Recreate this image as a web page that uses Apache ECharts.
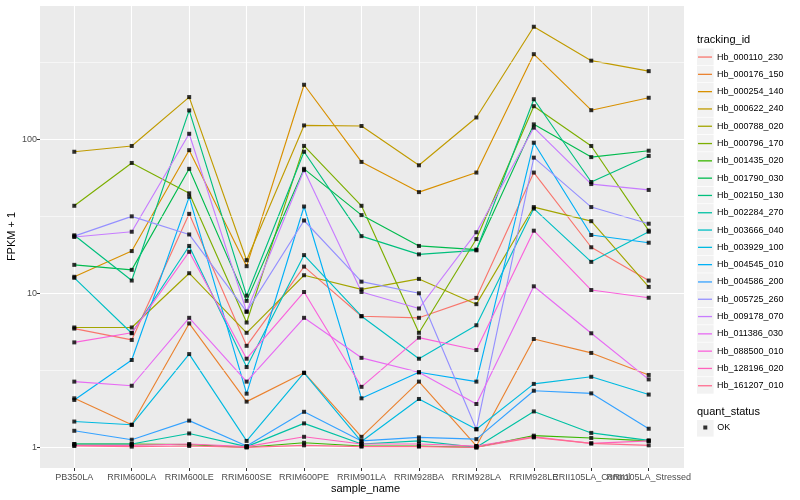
<!DOCTYPE html>
<html><head><meta charset="utf-8">
<script src="https://cdn.jsdelivr.net/npm/echarts@6/dist/echarts.min.js"></script>
<style>html,body{margin:0;padding:0;background:#fff}#c{width:800px;height:500px}</style>
</head><body><div id="c"></div>
<script>
const categories = ["PB350LA","RRIM600LA","RRIM600LE","RRIM600SE","RRIM600PE","RRIM901LA","RRIM928BA","RRIM928LA","RRIM928LE","RRII105LA_Control","RRII105LA_Stressed"];
const trackingIds = ["Hb_000110_230","Hb_000176_150","Hb_000254_140","Hb_000622_240","Hb_000788_020","Hb_000796_170","Hb_001435_020","Hb_001790_030","Hb_002150_130","Hb_002284_270","Hb_003666_040","Hb_003929_100","Hb_004545_010","Hb_004586_200","Hb_005725_260","Hb_009178_070","Hb_011386_030","Hb_088500_010","Hb_128196_020","Hb_161207_010"];
const colors = ["#F8766D","#EA8331","#D89000","#C09B00","#A3A500","#7CAE00","#39B600","#00BB4E","#00BF7D","#00C1A3","#00BFC4","#00BAE0","#00B0F6","#35A2FF","#9590FF","#C77CFF","#E76BF3","#FA62DB","#FF62BC","#FF6C90"];

// FPKM + 1 values, one array per tracking_id, in category order
const v000110_230 = [5.9, 4.98, 32.8, 4.56, 14.9, 7.1, 6.93, 9.34, 60.8, 19.9, 12.1];
const v000176_150 = [2.08, 1.40, 6.37, 1.98, 3.05, 1.17, 2.67, 1.02, 5.05, 4.1, 2.95];
const v000254_140 = [12.8, 18.8, 85, 15.0, 226, 71.3, 45.4, 60.8, 357, 154.5, 186];
const v000622_240 = [83, 90.5, 188, 16.4, 123, 122, 67.8, 138.6, 538, 324, 277];
const v000788_020 = [6.0, 6.0, 13.5, 5.54, 13.1, 10.6, 12.4, 8.5, 36.3, 29.4, 11.0];
const v000796_170 = [37, 70.2, 44.6, 6.46, 90.6, 37, 5.54, 22.5, 164, 90.5, 25.5];
const v001435_020 = [1.05, 1.05, 1.04, 1.0, 1.07, 1.02, 1.02, 1.0, 1.19, 1.15, 1.1];
const v001790_030 = [15.3, 14.2, 64.3, 8.93, 64.3, 32.2, 20.3, 19.2, 125, 76.6, 84.3];
const v002150_130 = [23.8, 12.1, 154, 9.65, 83, 23.5, 17.9, 19.0, 182, 52.8, 78];
const v002284_270 = [1.05, 1.05, 1.23, 1.01, 1.43, 1.05, 1.10, 1.0, 1.71, 1.24, 1.11];
const v003666_040 = [12.6, 5.5, 20.3, 3.32, 17.7, 7.1, 3.76, 6.2, 35.5, 16.0, 25.1];
const v003929_100 = [1.47, 1.40, 4.03, 1.10, 3.04, 1.09, 2.06, 1.31, 2.58, 2.87, 2.2];
const v004545_010 = [2.03, 3.69, 42.3, 2.23, 36.6, 2.08, 3.07, 2.67, 95, 23.9, 21.3];
const v004586_200 = [1.28, 1.12, 1.49, 1.02, 1.70, 1.10, 1.16, 1.13, 2.33, 2.24, 1.32];
const v005725_260 = [23.5, 31.6, 24.1, 7.6, 29.7, 11.9, 10.0, 1.31, 76, 36.3, 28.3];
const v009178_070 = [23.2, 25.1, 108.6, 7.6, 63.1, 10.2, 7.97, 24.9, 119, 51.2, 46.9];
const v011386_030 = [2.67, 2.51, 6.93, 2.67, 6.93, 3.81, 3.07, 1.91, 11.1, 5.5, 2.76];
const v088500_010 = [4.8, 5.54, 18.6, 3.76, 10.2, 2.47, 5.15, 4.28, 25.5, 10.5, 9.36];
const v128196_020 = [1.03, 1.03, 1.05, 1.01, 1.17, 1.05, 1.05, 1.02, 1.17, 1.06, 1.1];
const v161207_010 = [1.02, 1.01, 1.02, 1.0, 1.03, 1.01, 1.01, 1.0, 1.16, 1.06, 1.03];

const seriesValues = [v000110_230, v000176_150, v000254_140, v000622_240, v000788_020, v000796_170, v001435_020, v001790_030, v002150_130, v002284_270, v003666_040, v003929_100, v004545_010, v004586_200, v005725_260, v009178_070, v011386_030, v088500_010, v128196_020, v161207_010];

const yTicks = [1, 10, 100];
const minorBreaks = [3.1623, 31.623, 316.23];
const quantStatus = ["OK"];

const FONT = "'Liberation Sans', Arial, Helvetica, sans-serif";
const Y_MIN = Math.pow(10, -0.1344);
const Y_MAX = Math.pow(10, 2.872);
const PANEL = {left: 40, top: 5, width: 644, height: 463};

const chart = echarts.init(document.getElementById('c'), null, {renderer: 'canvas'});

const lineSeries = trackingIds.map((id, i) => ({
  name: id, type: 'line', xAxisIndex: 1, yAxisIndex: 1,
  data: seriesValues[i], showSymbol: false, symbol: 'none',
  color: colors[i], lineStyle: {width: 1.15, color: colors[i]},
  silent: true, animation: false, z: 3
}));

const pointData = [];
seriesValues.forEach(arr => arr.forEach((v, j) => pointData.push([categories[j], v])));

const keyRects = trackingIds.map((id, i) => ({
  type: 'rect', silent: true, z: -1,
  shape: {x: 697, y: 48.4 + i * 17.3, width: 16.6, height: 16.6},
  style: {fill: '#F2F2F2'}
}));

const option = {
  animation: false,
  backgroundColor: '#FFFFFF',
  grid: [
    {left: PANEL.left, top: PANEL.top, width: PANEL.width, height: PANEL.height, show: true, backgroundColor: '#EBEBEB', borderWidth: 0, containLabel: false},
    {left: 74.3, top: PANEL.top, width: 574.4, height: PANEL.height, show: false, containLabel: false}
  ],
  xAxis: [
    {gridIndex: 0, type: 'value', min: 0, max: 1, show: false},
    {gridIndex: 1, type: 'category', data: categories, boundaryGap: false,
     axisLine: {show: false},
     axisTick: {show: true, length: 3, interval: 0, lineStyle: {color: '#333333', width: 1}},
     axisLabel: {interval: 0, color: '#4D4D4D', fontSize: 9, fontFamily: FONT, margin: 5},
     splitLine: {show: true, interval: 0, lineStyle: {color: '#FFFFFF', width: 1.1}}}
  ],
  yAxis: [
    {gridIndex: 0, type: 'log', logBase: 10, min: Y_MIN, max: Y_MAX,
     axisLine: {show: false},
     axisTick: {show: true, length: 3, lineStyle: {color: '#333333', width: 1}},
     axisLabel: {color: '#4D4D4D', fontSize: 9, fontFamily: FONT, margin: 3, showMinLabel: false, showMaxLabel: false,
       formatter: v => (yTicks.indexOf(Math.round(v)) >= 0 && Math.abs(v - Math.round(v)) < 1e-6) ? String(Math.round(v)) : ''},
     splitLine: {show: true, lineStyle: {color: '#FFFFFF', width: 1.1}}},
    {gridIndex: 1, type: 'log', logBase: 10, min: Y_MIN, max: Y_MAX, show: false, splitLine: {show: false}}
  ],
  legend: [
    {data: trackingIds, orient: 'vertical', left: 698, top: 48.4, padding: 0, icon: 'rect',
     itemWidth: 14, itemHeight: 1.3, itemGap: 0, selectedMode: false,
     textStyle: {fontSize: 9, color: '#000000', fontFamily: FONT, lineHeight: 17.3}},
    {data: quantStatus, orient: 'vertical', left: 703.3, top: 423, padding: 0, icon: 'rect',
     itemWidth: 4, itemHeight: 4, selectedMode: false,
     textStyle: {fontSize: 9, color: '#000000', fontFamily: FONT, padding: [0, 0, 0, 5]}}
  ],
  graphic: [
    ...keyRects,
    {type: 'rect', silent: true, z: -1, shape: {x: 697, y: 420, width: 16.6, height: 16.6}, style: {fill: '#F2F2F2'}},
    {type: 'text', left: 697, top: 34, silent: true, style: {text: 'tracking_id', fontSize: 11, fill: '#000', fontFamily: FONT}},
    {type: 'text', left: 697, top: 406, silent: true, style: {text: 'quant_status', fontSize: 11, fill: '#000', fontFamily: FONT}},
    {type: 'text', left: 331, top: 483, silent: true, style: {text: 'sample_name', fontSize: 11, fill: '#000', fontFamily: FONT}},
    {type: 'text', x: 12, y: 236.5, rotation: Math.PI / 2, silent: true,
     style: {text: 'FPKM + 1', fontSize: 11, fill: '#000', fontFamily: FONT, align: 'center', verticalAlign: 'middle'}}
  ],
  series: [
    {name: '_minor', type: 'line', xAxisIndex: 0, yAxisIndex: 0, data: [], silent: true, z: 1,
     markLine: {silent: true, symbol: 'none', label: {show: false}, animation: false,
       lineStyle: {color: '#FFFFFF', width: 0.55, type: 'solid'},
       data: minorBreaks.map(v => ({yAxis: v}))}},
    ...lineSeries,
    {name: 'OK', type: 'scatter', xAxisIndex: 1, yAxisIndex: 1, data: pointData,
     symbol: 'rect', symbolSize: 4, color: '#000000', itemStyle: {color: '#000000'}, silent: true, z: 5}
  ]
};
chart.setOption(option);
</script>
</body></html>
